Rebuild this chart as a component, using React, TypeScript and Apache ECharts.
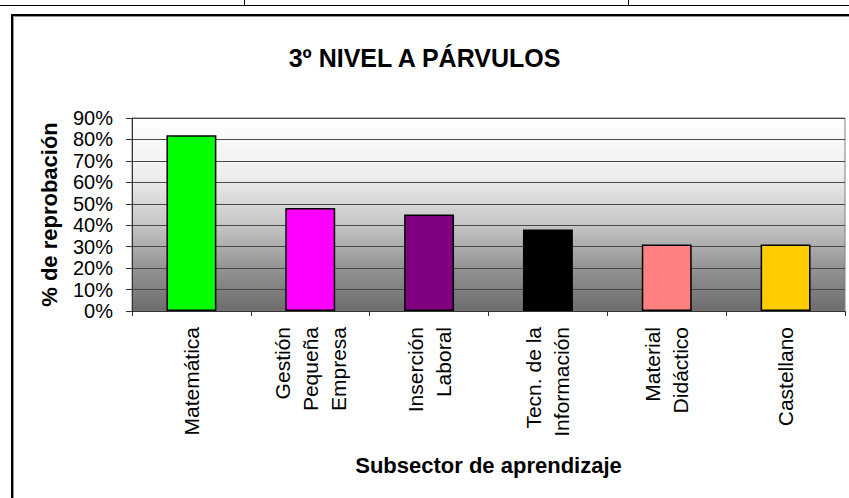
import React, { useEffect, useRef } from "react";
import * as echarts from "echarts";

const titleText = "3º NIVEL A PÁRVULOS";
const categories = [
  "Matemática",
  "Gestión\nPequeña\nEmpresa",
  "Inserción\nLaboral",
  "Tecn. de la\nInformación",
  "Material\nDidáctico",
  "Castellano",
];
const values = [82, 48, 45, 38, 31, 31];
const barColors = ["#00FF00", "#FF00FF", "#800080", "#000000", "#FF8080", "#FFCC00"];
const yAxisName = "% de reprobación";
const xAxisName = "Subsector de aprendizaje";

const FONT = 'Arial, "Liberation Sans", sans-serif';

export default function App() {
  const ref = useRef<HTMLDivElement>(null);
  useEffect(() => {
    if (!ref.current) return;
    const chart = echarts.init(ref.current, undefined, { renderer: "svg" });
    chart.setOption({
      animation: false,
      backgroundColor: "#ffffff",
      textStyle: { fontFamily: FONT, color: "#000" },
      title: {
        text: titleText,
        left: "center",
        top: 40,
        textStyle: { fontFamily: FONT, fontSize: 25, fontWeight: "bold", color: "#000" },
      },
      grid: {
        left: 132,
        right: 4,
        top: 118,
        bottom: 187,
        show: true,
        borderColor: "#808080",
        borderWidth: 1,
        backgroundColor: new echarts.graphic.LinearGradient(0, 0, 0, 1, [
          { offset: 0, color: "#ffffff" },
          { offset: 0.3, color: "#ededed" },
          { offset: 0.55, color: "#c6c6c6" },
          { offset: 0.78, color: "#939393" },
          { offset: 1, color: "#6c6c6c" },
        ]),
      },
      xAxis: {
        type: "category",
        data: categories,
        boundaryGap: true,
        name: xAxisName,
        nameLocation: "middle",
        nameGap: 143,
        nameTextStyle: { fontFamily: FONT, fontSize: 22, fontWeight: "bold", color: "#000" },
        axisLine: { show: true, lineStyle: { color: "#333", width: 1 } },
        axisTick: { show: true, length: 5, alignWithLabel: false, lineStyle: { color: "#333" } },
        axisLabel: {
          interval: 0,
          rotate: 90,
          margin: 16,
          fontFamily: FONT,
          fontSize: 21,
          lineHeight: 28,
          color: "#000",
        },
        splitLine: { show: false },
      },
      yAxis: {
        type: "value",
        min: 0,
        max: 90,
        interval: 10,
        name: yAxisName,
        nameLocation: "middle",
        nameGap: 72,
        nameRotate: 90,
        nameTextStyle: { fontFamily: FONT, fontSize: 22, fontWeight: "bold", color: "#000" },
        axisLine: { show: true, lineStyle: { color: "#333", width: 1 } },
        axisTick: { show: true, length: 6, lineStyle: { color: "#333" } },
        axisLabel: {
          formatter: "{value}%",
          margin: 19,
          fontFamily: FONT,
          fontSize: 20,
          color: "#000",
        },
        splitLine: { show: true, lineStyle: { color: "#4a4a4a", width: 1 } },
      },
      series: [
        {
          type: "bar",
          barWidth: "42%",
          data: values.map((v, i) => ({
            value: v,
            itemStyle: { color: barColors[i], borderColor: "#000", borderWidth: 1.5 },
          })),
        },
      ],
      graphic: [
        { type: "line", shape: { x1: 0, y1: 5.5, x2: 849, y2: 5.5 }, style: { stroke: "#000", lineWidth: 1 } },
        { type: "line", shape: { x1: 244.5, y1: 0, x2: 244.5, y2: 5 }, style: { stroke: "#000", lineWidth: 1 } },
        { type: "line", shape: { x1: 628.5, y1: 0, x2: 628.5, y2: 5 }, style: { stroke: "#000", lineWidth: 1 } },
        {
          type: "polyline",
          shape: { points: [[13.5, 498], [13.5, 16.5], [849, 16.5]] },
          style: { stroke: "#909090", lineWidth: 1, fill: "none" },
        },
        {
          type: "polyline",
          shape: { points: [[12, 498], [12, 15], [849, 15]] },
          style: { stroke: "#000", lineWidth: 2, fill: "none" },
        },
      ],
    });
    return () => chart.dispose();
  }, []);
  return (
    <div
      ref={ref}
      style={{ position: "fixed", left: 0, top: 0, width: 849, height: 498 }}
    />
  );
}
